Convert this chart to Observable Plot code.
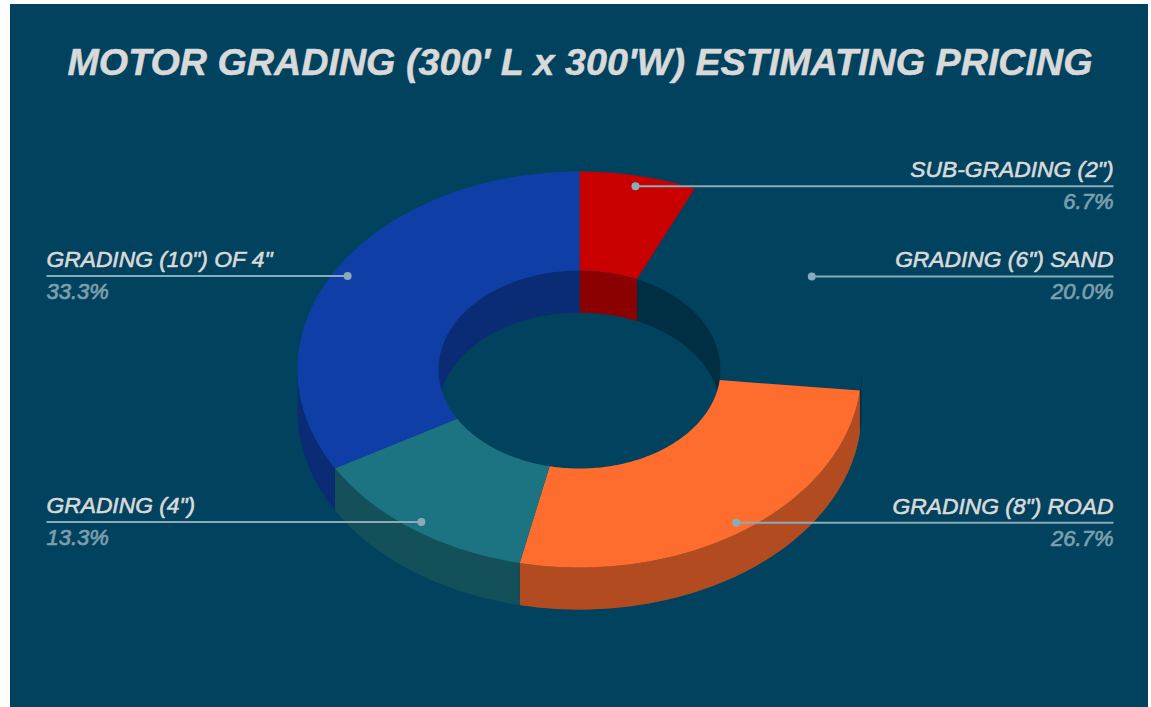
<!DOCTYPE html>
<html>
<head>
<meta charset="utf-8">
<script src="https://cdn.jsdelivr.net/npm/d3@7"></script>
<script src="https://cdn.jsdelivr.net/npm/@observablehq/plot@0.6"></script>
<style>
  html, body { margin: 0; padding: 0; background: #fff; overflow: hidden; }
  #chart { position: absolute; left: 10px; top: 4px; }
  svg { display: block; }
</style>
</head>
<body>
<div id="chart"></div>
<script>
const categories = ['SUB-GRADING (2")', 'GRADING (6") SAND', 'GRADING (8") ROAD', 'GRADING (4")', 'GRADING (10") OF 4"'];
const shares = [6.7, 20.0, 26.7, 13.3, 33.3];
const percentLabels = ["6.7%", "20.0%", "26.7%", "13.3%", "33.3%"];
const sliceColors = ["#c80000", "#01425f", "#ff6d2e", "#1c7382", "#0f3fa6"];
const labelSide = ["right", "right", "right", "left", "left"];

const background = "#01425f";
const nameColor = "#d9d9d9";
const percentColor = "#7b9fae";
const leaderColor = "#8aabba";
const titleText = "MOTOR GRADING (300' L x 300'W) ESTIMATING PRICING";

// Projection of the tilted ring (pixel-aligned linear scales below)
const cx = 579, cy = 369, rx = 282, ry = 198, hole = 0.5, depth = 42, anchorR = 0.95;
const rightEdge = 1113, leftEdge = 46;

const pt = (deg, r, dy = 0) => {
  const a = deg * Math.PI / 180;
  return {x: cx + rx * r * Math.sin(a), y: cy - ry * r * Math.cos(a) + dy};
};
const arc = (a0, a1, r, dy = 0) => {
  const n = Math.max(2, Math.ceil(Math.abs(a1 - a0)));
  return d3.range(n + 1).map(i => pt(a0 + (a1 - a0) * i / n, r, dy));
};

let cum = 0;
const slices = categories.map((category, i) => {
  const a0 = cum / 100 * 360;
  cum += shares[i];
  const a1 = cum / 100 * 360;
  return {category, i, a0, a1, mid: (a0 + a1) / 2};
});

const tag = (pts, s, part) => pts.map(p => ({...p, category: s.category, id: `${part}-${s.i}`}));

const outerWalls = [], innerWalls = [], faces = [];
for (const s of slices) {
  const f0 = Math.max(s.a0, 90), f1 = Math.min(s.a1, 270);
  if (f1 > f0) {
    outerWalls.push(...tag([...arc(f0, f1, 1), ...arc(f1, f0, 1, depth)], s, "outer"));
  }
  for (const [lo, hi] of [[0, 90], [270, 360]]) {
    const b0 = Math.max(s.a0, lo), b1 = Math.min(s.a1, hi);
    if (b1 > b0) {
      innerWalls.push(...tag([...arc(b0, b1, hole), ...arc(b1, b0, hole, depth)], s, `inner${lo}`));
    }
  }
  faces.push(...tag([...arc(s.a0, s.a1, 1), ...arc(s.a1, s.a0, hole)], s, "face"));
}

const labels = slices.map(s => {
  const p = pt(s.mid, anchorR);
  const right = labelSide[s.i] === "right";
  return {
    name: s.category, pct: percentLabels[s.i], ax: p.x, ay: p.y,
    ex: right ? rightEdge : leftEdge,
    anchor: right ? "end" : "start"
  };
});

const colorOpts = {domain: categories, range: sliceColors};
const poly = (data, fill, extra = {}) => Plot.line(data, {x: "x", y: "y", z: "id", fill, stroke: "none", curve: "linear", ...extra});

const textMark = (data, textKey, dy, fill, anchor, fontSize, strokeWidth) =>
  Plot.text(data.filter(d => d.anchor === anchor), {
    x: "ex", y: "ay", text: textKey, dy, lineAnchor: "bottom", textAnchor: anchor,
    fill, fontSize, fontStyle: "italic", fontWeight: 400,
    stroke: fill, strokeWidth,
    fontFamily: "'Liberation Sans', Arial, sans-serif"
  });

const plot = Plot.plot({
  width: 1138, height: 703,
  marginTop: 0, marginRight: 0, marginBottom: 0, marginLeft: 0,
  style: {background, overflow: "visible"},
  x: {domain: [10, 1148], axis: null},
  y: {domain: [707, 4], axis: null},
  color: colorOpts,
  marks: [
    poly(outerWalls, "category"),
    poly(outerWalls, "#000", {fillOpacity: 0.3}),
    poly(innerWalls, "category"),
    poly(innerWalls, "#000", {fillOpacity: 0.3}),
    poly(faces, "category"),
    Plot.link(labels, {x1: "ax", y1: "ay", x2: "ex", y2: "ay", dy: 0.7, stroke: leaderColor, strokeWidth: 2}),
    Plot.dot(labels, {x: "ax", y: "ay", dy: 0.7, r: 4, fill: leaderColor, stroke: "none"}),
    textMark(labels, "name", -8.5, nameColor, "end", 22.8, 0.6),
    textMark(labels, "name", -8.5, nameColor, "start", 22.8, 0.6),
    textMark(labels, "pct", 23.5, percentColor, "end", 22, 0.7),
    textMark(labels, "pct", 23.5, percentColor, "start", 22, 0.7),
    Plot.text([titleText], {
      x: () => 579.5, y: () => 62, text: d => d, textAnchor: "middle", lineAnchor: "middle",
      fill: nameColor, stroke: nameColor, strokeWidth: 0.5, fontSize: 37.7, fontWeight: 700, fontStyle: "italic",
      fontFamily: "'Liberation Sans', Arial, sans-serif"
    })
  ]
});
document.getElementById("chart").appendChild(plot);
</script>
</body>
</html>
